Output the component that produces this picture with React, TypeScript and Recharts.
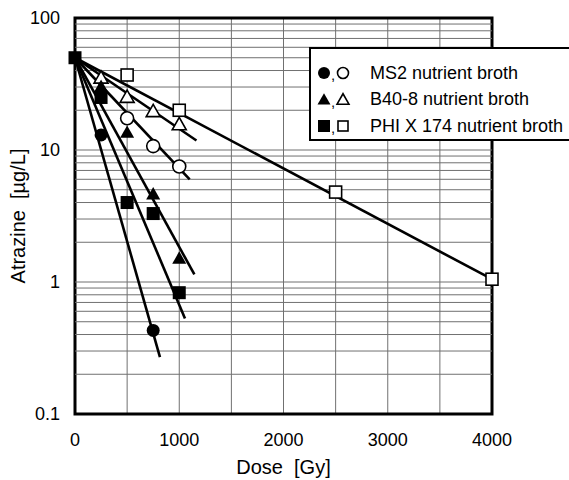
import React from "react";
import {
  ComposedChart,
  Line,
  Scatter,
  XAxis,
  YAxis,
  CartesianGrid,
  ReferenceArea,
  ReferenceLine,
  Legend,
} from "recharts";

// tick labels
const DOSE_TICKS = [0, 1000, 2000, 3000, 4000];
const CONC_TICKS = [0.1, 1, 10, 100];
const DOSE_GRID = [500, 1000, 1500, 2000, 2500, 3000, 3500];
const CONC_GRID = [
  0.2, 0.3, 0.4, 0.5, 0.6, 0.7, 0.8, 0.9, 1,
  2, 3, 4, 5, 6, 7, 8, 9, 10,
  20, 30, 40, 50, 60, 70, 80, 90,
];

// measured points (dose Gy, atrazine ug/L)
const ms2Filled = [
  { x: 250, y: 13 },
  { x: 750, y: 0.43 },
];
const ms2Open = [
  { x: 500, y: 17.4 },
  { x: 750, y: 10.7 },
  { x: 1000, y: 7.5 },
];
const b40Filled = [
  { x: 250, y: 30 },
  { x: 500, y: 13.5 },
  { x: 750, y: 4.6 },
  { x: 1000, y: 1.5 },
];
const b40Open = [
  { x: 250, y: 35 },
  { x: 500, y: 25 },
  { x: 750, y: 19.5 },
  { x: 1000, y: 15.5 },
];
const phiFilled = [
  { x: 0, y: 50 },
  { x: 250, y: 25 },
  { x: 500, y: 4 },
  { x: 750, y: 3.3 },
  { x: 1000, y: 0.83 },
];
const phiOpen = [
  { x: 500, y: 37 },
  { x: 1000, y: 20 },
  { x: 2500, y: 4.8 },
  { x: 4000, y: 1.05 },
];

// fitted decay lines (start, end)
const ms2FilledFit = [{ x: 0, y: 50 }, { x: 815, y: 0.27 }];
const b40FilledFit = [{ x: 0, y: 50 }, { x: 1145, y: 1.14 }];
const phiFilledFit = [{ x: 0, y: 50 }, { x: 1055, y: 0.53 }];
const ms2OpenFit = [{ x: 0, y: 50 }, { x: 1100, y: 6.0 }];
const b40OpenFit = [{ x: 0, y: 50 }, { x: 1165, y: 11.8 }];
const phiOpenFit = [{ x: 0, y: 50 }, { x: 4000, y: 1.05 }];

const LEGEND_ROWS = [
  { kind: "circle", label: "MS2 nutrient broth" },
  { kind: "triangle", label: "B40-8 nutrient broth" },
  { kind: "square", label: "PHI X 174 nutrient broth" },
];

const FONT = "'Liberation Sans', Arial, sans-serif";

function Marker({ kind, filled, cx, cy, size }: any) {
  const fill = filled ? "#000" : "#fff";
  const sw = filled ? 0 : 1.6;
  if (kind === "circle") {
    return <circle cx={cx} cy={cy} r={size / 2} fill={fill} stroke="#000" strokeWidth={sw} />;
  }
  if (kind === "triangle") {
    const w = size * 1.08;
    const h = size * 0.95;
    const pts = `${cx},${cy - h * 0.6} ${cx - w / 2},${cy + h * 0.4} ${cx + w / 2},${cy + h * 0.4}`;
    return <polygon points={pts} fill={fill} stroke="#000" strokeWidth={sw} strokeLinejoin="miter" />;
  }
  const s = filled ? size : size - 1;
  return <rect x={cx - s / 2} y={cy - s / 2} width={s} height={s} fill={fill} stroke="#000" strokeWidth={sw} />;
}

const shape = (kind: string, filled: boolean) => (props: any) =>
  <Marker kind={kind} filled={filled} cx={props.cx} cy={props.cy} size={13} />;

function LegendBox() {
  return (
    <div
      style={{
        width: 300,
        height: 94,
        border: "2px solid #000",
        borderRight: "none",
        background: "#fff",
        fontFamily: FONT,
        fontSize: 18,
        color: "#000",
        paddingTop: 11,
        boxSizing: "border-box",
      }}
    >
      {LEGEND_ROWS.map((r) => (
        <div key={r.label} style={{ display: "flex", alignItems: "center", height: 26.5 }}>
          <svg width={52} height={18}>
            <Marker kind={r.kind} filled cx={13} cy={9} size={12} />
            <text x={20} y={16} fontSize={15} fontFamily={FONT}>,</text>
            <Marker kind={r.kind} filled={false} cx={32} cy={9} size={11} />
          </svg>
          <span style={{ marginLeft: 7, whiteSpace: "nowrap" }}>{r.label}</span>
        </div>
      ))}
    </div>
  );
}

export default function App() {
  const lineProps = {
    type: "linear" as const,
    dataKey: "y",
    stroke: "#000",
    strokeWidth: 2.6,
    dot: false,
    activeDot: false,
    legendType: "none" as const,
    isAnimationActive: false,
  };
  return (
    <div
      style={{
        position: "absolute",
        left: 0,
        top: 0,
        width: 569,
        height: 480,
        overflow: "hidden",
        background: "#fff",
      }}
    >
      <ComposedChart
        width={569}
        height={480}
        margin={{ top: 18, right: 77, bottom: 4, left: 10 }}
      >
        <CartesianGrid
          stroke="#707070"
          strokeWidth={1}
          horizontal={false}
          verticalValues={DOSE_GRID}
        />
        {CONC_GRID.map((v) => (
          <ReferenceLine key={v} y={v} stroke="#707070" strokeWidth={1} />
        ))}
        <XAxis
          type="number"
          dataKey="x"
          domain={[0, 4000]}
          ticks={DOSE_TICKS}
          height={62}
          tickSize={0}
          tickMargin={19}
          axisLine={false}
          tick={{ fontSize: 18, fill: "#000", fontFamily: FONT }}
          label={{
            value: "Dose \u00a0[Gy]",
            position: "insideBottom",
            offset: 2,
            style: { fontSize: 20, fill: "#000", fontFamily: FONT },
          }}
        />
        <YAxis
          type="number"
          dataKey="y"
          scale="log"
          domain={[0.1, 100]}
          allowDataOverflow
          ticks={CONC_TICKS}
          width={65}
          tickSize={0}
          tickMargin={15}
          axisLine={false}
          tick={{ fontSize: 18, fill: "#000", fontFamily: FONT }}
          label={{
            value: "Atrazine \u00a0[µg/L]",
            angle: -90,
            position: "insideLeft",
            offset: 8,
            style: { textAnchor: "middle", fontSize: 20, fill: "#000", fontFamily: FONT },
          }}
        />
        <Line data={ms2FilledFit} {...lineProps} />
        <Line data={b40FilledFit} {...lineProps} />
        <Line data={phiFilledFit} {...lineProps} />
        <Line data={ms2OpenFit} {...lineProps} />
        <Line data={b40OpenFit} {...lineProps} />
        <Line data={phiOpenFit} {...lineProps} />
        <Scatter data={ms2Open} shape={shape("circle", false)} isAnimationActive={false} />
        <Scatter data={b40Open} shape={shape("triangle", false)} isAnimationActive={false} />
        <Scatter data={phiOpen} shape={shape("square", false)} isAnimationActive={false} />
        <Scatter data={ms2Filled} shape={shape("circle", true)} isAnimationActive={false} />
        <Scatter data={b40Filled} shape={shape("triangle", true)} isAnimationActive={false} />
        <Scatter data={phiFilled} shape={shape("square", true)} isAnimationActive={false} />
        <ReferenceArea
          x1={0}
          x2={4000}
          y1={0.1}
          y2={100}
          fill="none"
          stroke="#000"
          strokeWidth={3}
          ifOverflow="visible"
        />
        <Legend
          layout="vertical"
          align="center"
          verticalAlign="middle"
          content={() => <LegendBox />}
          wrapperStyle={{ top: 47, left: 309, right: "auto", bottom: "auto", width: 300 }}
        />
      </ComposedChart>
    </div>
  );
}
